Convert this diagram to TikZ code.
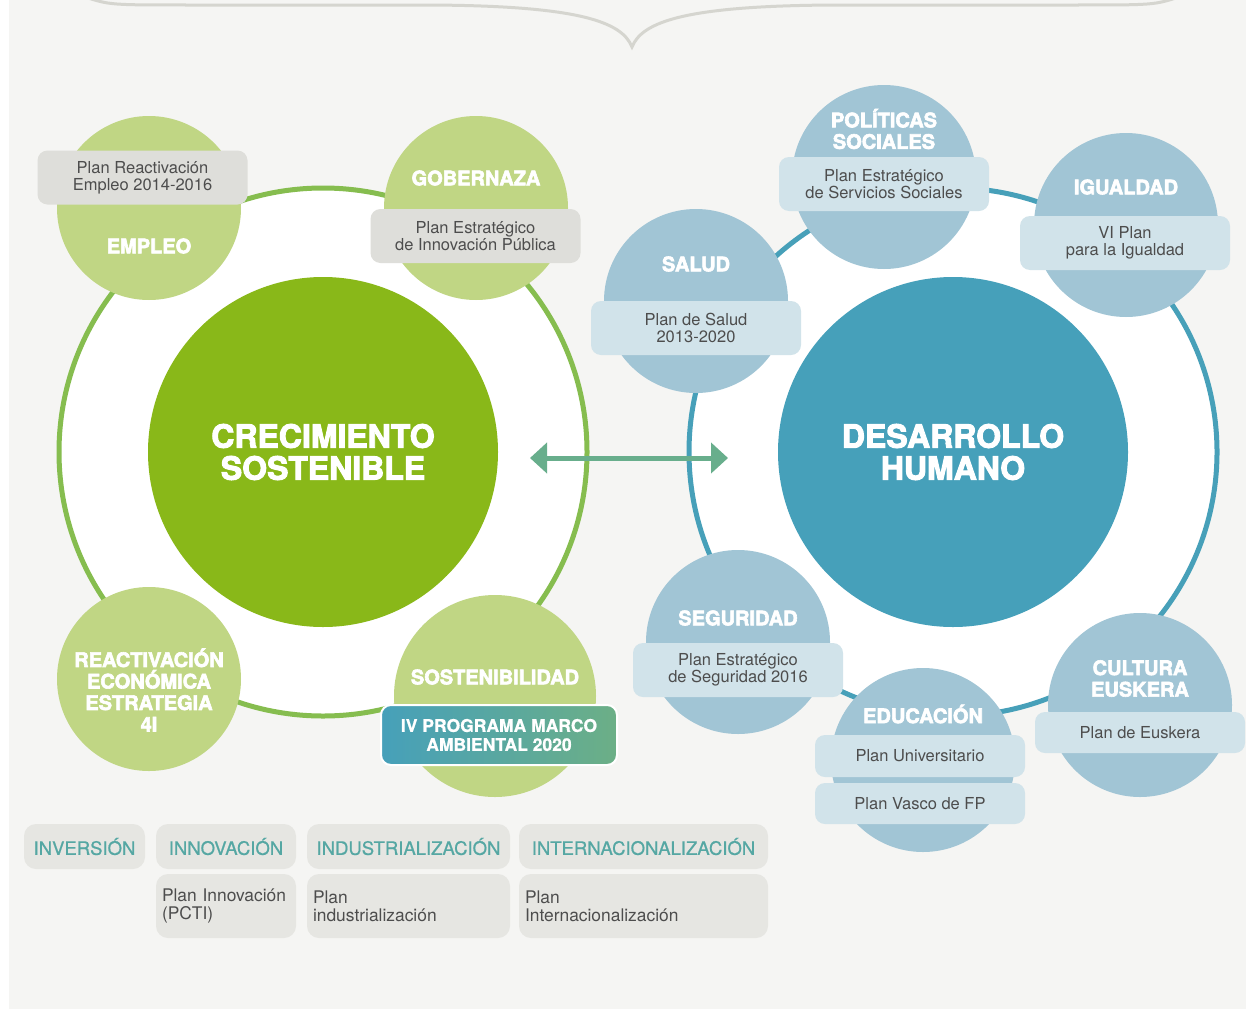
\documentclass[tikz,border=0pt]{standalone}
\usepackage{fontspec}
\setmainfont{TeX Gyre Heros}
\newfontfamily\heavyfont[FakeBold=3]{TeX Gyre Heros}
\newfontfamily\medfont[FakeBold=0.8]{TeX Gyre Heros}
\usetikzlibrary{arrows.meta}

\definecolor{bgcol}{HTML}{F5F5F3}
\definecolor{bracecol}{HTML}{D5D5CF}
\definecolor{ringgreen}{HTML}{86BD4F}
\definecolor{coregreen}{HTML}{89B819}
\definecolor{topicgreen}{HTML}{C0D684}
\definecolor{plangray}{HTML}{DEDEDA}
\definecolor{ringblue}{HTML}{47A0B9}
\definecolor{coreblue}{HTML}{46A0BA}
\definecolor{topicblue}{HTML}{A1C5D5}
\definecolor{planblue}{HTML}{D1E3EA}
\definecolor{arrowcol}{HTML}{68AE8C}
\definecolor{plantext}{HTML}{4D4D4D}
\definecolor{axisbox}{HTML}{E6E6E2}
\definecolor{axistext}{HTML}{55A7A3}
\definecolor{progleft}{HTML}{46A0BA}
\definecolor{progright}{HTML}{6CAF86}

\begin{document}
\begin{tikzpicture}[x=1pt,y=-1pt,
  ring/.style={circle,draw,fill=white,line width=5pt,minimum size=528pt,inner sep=0pt},
  core/.style={circle,minimum size=350pt,inner sep=0pt,text=white,align=center,
    font=\heavyfont\bfseries\fontsize{32}{32}\selectfont},
  topic/.style={circle,minimum size=184pt,inner sep=0pt},
  topictext/.style={text=white,align=center,inner sep=0pt,
    font=\heavyfont\bfseries\fontsize{20}{21.5}\selectfont},
  plan/.style={rounded corners=10pt,minimum width=210pt,minimum height=54pt,inner sep=0pt,
    align=center,text=plantext,font=\fontsize{16.5}{17}\selectfont},
  axis/.style={rounded corners=12pt,fill=axisbox,minimum height=45pt,inner sep=0pt,
    text=axistext,font=\medfont\fontsize{18.5}{18.5}\selectfont},
  axisplan/.style={rounded corners=12pt,fill=axisbox,minimum height=64pt,inner xsep=6pt,
    inner ysep=0pt,align=left,text=plantext,font=\fontsize{17.4}{18}\selectfont}]

\useasboundingbox (0,0) rectangle (1246,1009);
\fill[white] (0,0) rectangle (1246,1009);
\fill[bgcol] (9,0) rectangle (1246,1009);

% brace
\draw[bracecol,line width=3pt] (85,-3) .. controls (110,5) .. (190,5) -- (420,5)
  .. controls (580,5) and (622,22) .. (632,47)
  .. controls (642,22) and (684,5) .. (844,5) -- (1074,5)
  .. controls (1154,5) .. (1179,-3);

% crecimiento sostenible
\node[ring,draw=ringgreen] (crec-ring) at (323,452) {};
\node[core,fill=coregreen] (crec) at (323,452) {CRECIMIENTO\\SOSTENIBLE};

\node[topic,fill=topicgreen] (empleo) at (149,208) {};
\node[topic,fill=topicgreen] (gobernanza) at (476,208) {};
\node[topic,fill=topicgreen] (reactivacion) at (149,679) {};
\node[topic,fill=topicgreen,minimum size=202pt] (sostenibilidad) at (495,696) {};

\node[topictext] (empleo-t) at (149,246) {EMPLEO};
\node[topictext] (gobernanza-t) at (476,178) {GOBERNAZA};
\node[topictext] (reactivacion-t) at (149,690) {REACTIVACIÓN\\ECONÓMICA\\ESTRATEGIA\\4I};
\node[topictext] (sostenibilidad-t) at (495,677) {SOSTENIBILIDAD};

\node[plan,fill=plangray] (empleo-plan) at (142.5,177.5) {Plan Reactivación\\Empleo 2014-2016};
\node[plan,fill=plangray] (gobernanza-plan) at (475.5,236) {Plan Estratégico\\de Innovación Pública};
\node[rounded corners=10pt,draw=white,line width=2pt,left color=progleft,right color=progright,
  minimum width=236pt,minimum height=60pt,inner sep=0pt,text=white,align=center,
  font=\medfont\bfseries\fontsize{17.5}{19}\selectfont] (programa) at (499,735) {IV PROGRAMA MARCO\\AMBIENTAL 2020};

% desarrollo humano
\node[ring,draw=ringblue] (desa-ring) at (953,452) {};
\node[core,fill=coreblue] (desa) at (953,452) {DESARROLLO\\HUMANO};

\node[topic,fill=topicblue] (salud) at (696,301) {};
\node[topic,fill=topicblue] (politicas) at (884,177) {};
\node[topic,fill=topicblue] (igualdad) at (1126,225) {};
\node[topic,fill=topicblue] (seguridad) at (738,642) {};
\node[topic,fill=topicblue] (educacion) at (923,760) {};
\node[topic,fill=topicblue] (cultura) at (1140,705) {};

\node[topictext] (salud-t) at (696,264) {SALUD};
\node[topictext] (politicas-t) at (884,129) {POLÍTICAS\\SOCIALES};
\node[topictext] (igualdad-t) at (1126,187) {IGUALDAD};
\node[topictext] (seguridad-t) at (738,618) {SEGURIDAD};
\node[topictext] (educacion-t) at (923,714) {EDUCACIÓN};
\node[topictext] (cultura-t) at (1140,678.5) {CULTURA\\EUSKERA};

\node[plan,fill=planblue] (salud-plan) at (696,328) {Plan de Salud\\2013-2020};
\node[plan,fill=planblue] (politicas-plan) at (884,184) {Plan Estratégico\\de Servicios Sociales};
\node[plan,fill=planblue] (igualdad-plan) at (1125,243) {VI Plan\\para la Igualdad};
\node[plan,fill=planblue] (seguridad-plan) at (738,670) {Plan Estratégico\\de Seguridad 2016};
\node[plan,fill=planblue,minimum height=42pt] (educacion-plan) at (920,756) {Plan Universitario};
\node[plan,fill=planblue,minimum height=41pt] (fp-plan) at (920,803.5) {Plan Vasco de FP};
\node[plan,fill=planblue,minimum height=41pt] (cultura-plan) at (1140,732.5) {Plan de Euskera};

% link
\coordinate (link-l) at (530,458);
\coordinate (link-r) at (728,458);
\draw[arrowcol,line width=5pt,{Triangle[length=17pt,width=30pt]}-{Triangle[length=17pt,width=30pt]}]
  (link-l) -- (link-r);

% ejes
\node[axis,minimum width=121pt] (inversion) at (84.5,846.5) {INVERSIÓN};
\node[axis,minimum width=140pt] (innovacion) at (226,846.5) {INNOVACIÓN};
\node[axis,minimum width=203pt] (industrializacion) at (408.5,846.5) {INDUSTRIALIZACIÓN};
\node[axis,minimum width=249pt] (internacionalizacion) at (643.5,846.5) {INTERNACIONALIZACIÓN};

\node[axisplan,text width=128pt] (innovacion-plan) at (226,906) {Plan Innovación\\(PCTI)};
\node[axisplan,text width=191pt] (industrializacion-plan) at (408.5,906) {Plan\\industrialización};
\node[axisplan,text width=237pt] (internacionalizacion-plan) at (643.5,906) {Plan\\Internacionalización};
\end{tikzpicture}
\end{document}
